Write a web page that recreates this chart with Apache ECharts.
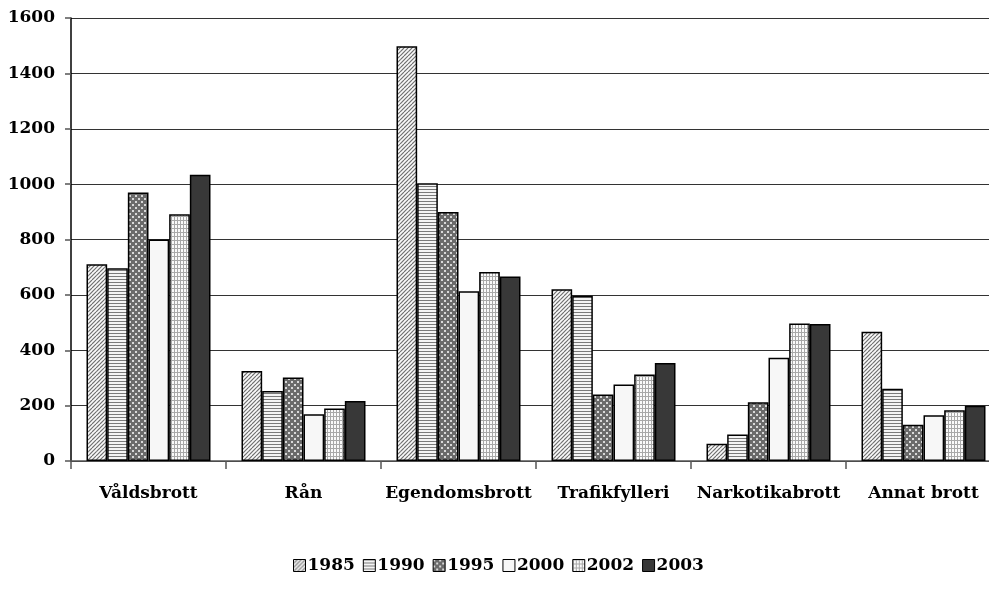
<!DOCTYPE html>
<html>
<head>
<meta charset="utf-8">
<script src="https://cdn.jsdelivr.net/npm/echarts@6/dist/echarts.min.js"></script>
<style>
  html, body { margin: 0; padding: 0; background: #fff; overflow: hidden; }
  #main { width: 1001px; height: 592px; }
</style>
</head>
<body>
<div id="main"></div>
<script>
var categories = ['Våldsbrott', 'Rån', 'Egendomsbrott', 'Trafikfylleri', 'Narkotikabrott', 'Annat brott'];
var years = ['1985', '1990', '1995', '2000', '2002', '2003'];

var v1985 = [711, 325, 1498, 620, 62, 467];
var v1990 = [696, 253, 1003, 597, 96, 261];
var v1995 = [970, 302, 899, 240, 212, 131];
var v2000 = [800, 169, 613, 276, 373, 165];
var v2002 = [891, 190, 683, 312, 497, 183];
var v2003 = [1034, 217, 666, 354, 495, 200];
var allValues = [v1985, v1990, v1995, v2000, v2002, v2003];

var yTicks = [0, 200, 400, 600, 800, 1000, 1200, 1400, 1600];

function makePattern(draw, w, h) {
    var c = document.createElement('canvas');
    c.width = w; c.height = h;
    var ctx = c.getContext('2d');
    draw(ctx, w, h);
    return { image: c, repeat: 'repeat' };
}

var fills = [
    // 1985 diagonal hatch
    makePattern(function (ctx, w, h) {
        ctx.fillStyle = '#fafafa'; ctx.fillRect(0, 0, w, h);
        ctx.strokeStyle = '#707070'; ctx.lineWidth = 1.2;
        for (var k = -w; k <= w * 2; k += 4) {
            ctx.beginPath(); ctx.moveTo(k, h); ctx.lineTo(k + h, 0); ctx.stroke();
        }
    }, 8, 8),
    // 1990 horizontal lines
    makePattern(function (ctx, w, h) {
        ctx.fillStyle = '#f4f4f4'; ctx.fillRect(0, 0, w, h);
        ctx.fillStyle = '#7a7a7a'; ctx.fillRect(0, 0, w, 1);
    }, 4, 3),
    // 1995 checker dots
    makePattern(function (ctx, w, h) {
        ctx.fillStyle = '#6a6a6a'; ctx.fillRect(0, 0, w, h);
        ctx.fillStyle = '#d8d8d8';
        ctx.fillRect(0, 0, 2, 2); ctx.fillRect(3, 3, 2, 2);
    }, 6, 6),
    // 2000 plain
    '#f7f7f7',
    // 2002 fine grid
    makePattern(function (ctx, w, h) {
        ctx.fillStyle = '#fafafa'; ctx.fillRect(0, 0, w, h);
        ctx.fillStyle = '#a8a8a8';
        ctx.fillRect(0, 0, 1, h); ctx.fillRect(0, 0, w, 1);
    }, 3, 4),
    // 2003 dark
    '#383838'
];

var font = '"DejaVu Serif", serif';

var series = years.map(function (y, i) {
    return {
        name: y,
        type: 'bar',
        data: allValues[i],
        barGap: '0%',
        barCategoryGap: '20%',
        itemStyle: { color: fills[i], borderColor: '#000', borderWidth: 1.5 }
    };
});

var myChart = echarts.init(document.getElementById('main'));
myChart.setOption({
    animation: false,
    backgroundColor: '#fff',
    grid: { left: 71, right: 0, top: 18, height: 443 },
    legend: {
        data: years,
        top: 552,
        left: 288,
        icon: 'rect',
        itemWidth: 12,
        itemHeight: 12,
        itemGap: 8,
        textStyle: { fontFamily: font, fontWeight: 'bold', fontSize: 17, color: '#000', padding: [0, 0, 0, -3] },
        itemStyle: { borderColor: '#000', borderWidth: 1 }
    },
    xAxis: {
        type: 'category',
        data: categories,
        axisLine: { lineStyle: { color: '#555', width: 1.5 } },
        axisTick: { show: true, length: 8, inside: false, lineStyle: { color: '#555', width: 1.5 } },
        axisLabel: { interval: 0, fontFamily: font, fontWeight: 'bold', fontSize: 17, color: '#000', margin: 24 }
    },
    yAxis: {
        type: 'value',
        min: yTicks[0],
        max: yTicks[yTicks.length - 1],
        interval: 200,
        axisLine: { show: true, lineStyle: { color: '#000', width: 1.5 } },
        axisTick: { show: true, length: 6, lineStyle: { color: '#555', width: 1.5 } },
        axisLabel: {
            fontFamily: font, fontWeight: 'bold', fontSize: 17, color: '#000', margin: 16,
            formatter: function (v) { return String(v); }
        },
        splitLine: { lineStyle: { color: '#333', width: 1 } }
    },
    series: series
});
</script>
</body>
</html>
